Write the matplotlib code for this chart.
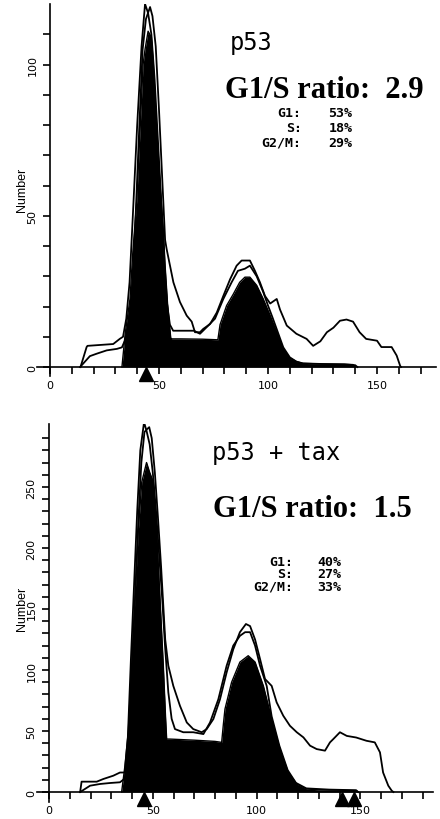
import matplotlib
matplotlib.use("Agg")
import matplotlib.pyplot as plt
import matplotlib.transforms as mtransforms
from matplotlib.ticker import FixedLocator

# ---- top panel: p53 ----
top_fill_x = [33, 34.5, 36.7, 38, 39.8, 41.3, 42.7, 43.6, 45, 46.5, 47.4, 49, 50.5, 52, 52.8, 54, 55.4, 56,
              60, 70, 77, 78, 81, 84, 87, 89.4, 91.7, 94.8, 97.8, 101, 104, 107, 110, 113, 116, 125, 135, 139, 140]
top_fill_y = [0, 11, 22.5, 38, 55, 78, 100, 105, 111, 109, 100, 78, 60, 45, 33.5, 20, 9.5, 9.3,
              9.3, 9.2, 9, 14, 20.3, 24, 28, 29.7, 29.7, 27, 22.5, 17, 11.5, 6, 3, 1.8, 1.2, 1, 0.9, 0.8, 0]

top_a_x = [14, 16.8, 17.2, 29, 32, 33.5, 35, 36.5, 38, 40, 42, 43.6, 45, 46.5, 48, 49.5, 51, 52.5, 53.5, 55, 56.5,
           60, 66, 68.8, 71.9, 75.7, 79.5, 83.3, 86.2, 89.4, 91.7, 94.8, 97.8, 100, 102, 104, 107, 110, 113, 116,
           125, 135, 140, 141]
top_a_y = [0, 6.6, 7, 7.6, 9.3, 10, 16, 28, 50, 80, 106, 120, 117, 110, 95, 75, 55, 32, 22, 14, 12,
           12, 12, 11, 13.2, 16, 22.5, 28, 31.8, 32.5, 33.5, 30, 24.8, 20.3, 16.5, 12.5, 6.5, 3.2, 1.8, 1.2,
           1, 0.9, 0.6, 0]

top_b_x = [13.8, 18.3, 21.4, 26, 30.7, 33, 34.5, 36, 37.5, 39, 41, 42.5, 44, 45.9, 47, 48.5, 50, 51.5, 52.8, 53.5,
           56.6, 59.6, 62.7, 65, 66.5, 68.8, 70.3, 73.4, 76.5, 79.5, 82.6, 85.6, 87.9, 91.7, 94, 96.3, 98.6,
           101, 104, 105.5, 108.6, 113, 117.7, 120.7, 124, 127, 130, 133, 136, 139, 142, 145, 150, 152,
           156.7, 159, 160.6, 161]
top_b_y = [0, 3.6, 4.4, 5.5, 6, 6.5, 9, 15, 25, 45, 80, 105, 115, 119, 116, 106, 85, 62, 42, 39,
           28, 21.5, 17, 15, 11.5, 11.5, 12.6, 14.2, 18, 23.5, 29, 33.5, 35.2, 35.2, 31.8, 28, 23.5,
           21, 22.5, 19, 13.7, 11, 9.3, 7, 8.5, 11.5, 13, 15.3, 15.7, 15, 11.5, 9.3, 8.7, 6.6,
           6.6, 3.8, 0.4, 0]

top_markers = [44]
top_yticks = [0, 50, 100]
top_yminor = list(range(0, 120, 10))

# ---- bottom panel: p53 + tax ----
bot_fill_x = [35, 36.6, 38.2, 39.8, 41.4, 43, 44.7, 47, 48.5, 50.3, 51.9, 53.5, 55.1, 56.2, 56.7,
              58.3, 70, 80, 83.2, 84, 84.8, 88, 92, 96, 99.3, 103.3, 107.3, 111.3, 115.3, 119.4, 124.2,
              130, 140, 148, 149]
bot_fill_y = [0, 21.6, 49, 103, 158, 213, 254, 270, 262, 254, 213, 158, 103, 60, 43.4,
              43.4, 42.5, 41.5, 40.7, 55, 68, 90, 106.5, 111.7, 106.5, 87, 60, 35, 16, 6.5, 2.5,
              1.8, 1.5, 1.2, 0]

bot_a_x = [15, 15.7, 23, 26.2, 31, 34.2, 36.5, 38, 39.5, 41, 42.5, 44, 45.8, 47, 48.5, 50, 51.5, 53,
           54.5, 55.9, 57.5, 59.1, 60.7, 64.7, 69.5, 74.4, 77.6, 81.6, 85.6, 88.8, 92, 94.5, 96.9,
           99.3, 101.7, 104.9, 107.3, 111, 115, 119, 124, 135, 148, 149]
bot_a_y = [0, 8.5, 8.5, 10.7, 13.4, 16, 16, 45, 110, 170, 230, 280, 303, 296, 285, 262, 232, 196,
           160, 120, 81.7, 60, 51.6, 49, 49, 47.5, 57, 76, 103.5, 120, 128, 131, 131,
           120, 103.5, 87, 62, 38, 18, 7.5, 3, 2, 1.5, 0]

bot_b_x = [15, 19.8, 24.6, 29.4, 34.2, 36.5, 38.5, 40, 41.5, 43, 44.5, 46, 47, 48.3, 49.5, 51, 52.5,
           54, 56, 57.5, 59.9, 63.1, 66.4, 69.5, 73.6, 76, 79.2, 82.4, 85.6, 88.8, 92, 94.9, 96.9,
           99.3, 101.7, 104.1, 107.3, 109.7, 112.9, 116.1, 119.4, 122.6, 125.8, 129, 133, 135.4,
           137, 140.2, 143.5, 148, 153, 157, 159.5, 161, 163.5, 165.2, 166]
bot_b_y = [0, 5.2, 6.6, 7.4, 8, 11, 40, 100, 160, 220, 270, 295, 297, 299, 290, 262, 225,
           185, 125, 103.5, 87, 70.7, 57, 51.6, 49, 51.6, 59.8, 76, 98, 117, 131, 137.7, 136,
           125, 109, 92.6, 87, 73.5, 62.5, 54.3, 49, 44.8, 38, 35.2, 33.9, 40.7,
           43.4, 49, 46, 44.7, 42, 40.7, 32.5, 16, 5.2, 1, 0]

bot_markers = [46, 141, 147]
bot_yticks = [0, 50, 100, 150, 200, 250]
bot_yminor = list(range(0, 300, 10))

W, H = 440, 820
fig = plt.figure(figsize=(W / 100, H / 100), dpi=100)


def px_rect(left, right, bottom, top):
	return [left / W, 1 - bottom / H, (right - left) / W, (bottom - top) / H]


def ftext(x, y, s, **kw):
	fig.text(x / W, 1 - y / H, s, **kw)


def draw_panel(ax, fx, fy, ax_, ay, bx, by, markers, yticks, yminor, xlim, ylim, marker_dy):
	ax.fill_between(fx, fy, 0, color='black', lw=0)
	ax.plot(fx, fy, color='black', lw=1.0)
	ax.plot(ax_, ay, color='black', lw=1.3)
	ax.plot(bx, by, color='black', lw=1.3)
	tr = mtransforms.offset_copy(ax.transData, fig=fig, y=marker_dy, units='dots')
	for m in markers:
		ax.plot([m], [0], marker='^', color='black', markersize=9.5, transform=tr, clip_on=False, lw=0)
	ax.set_xlim(*xlim)
	ax.set_ylim(*ylim)
	for s in ['top', 'right']:
		ax.spines[s].set_visible(False)
	ax.spines['left'].set_position(('data', 0))
	ax.spines['bottom'].set_position(('data', 0))
	for s in ['left', 'bottom']:
		ax.spines[s].set_linewidth(1.2)
	ax.xaxis.set_major_locator(FixedLocator([0, 50, 100, 150]))
	ax.xaxis.set_minor_locator(FixedLocator(list(range(0, int(xlim[1]), 10))))
	ax.yaxis.set_major_locator(FixedLocator(yticks))
	ax.yaxis.set_minor_locator(FixedLocator(yminor))
	ax.tick_params(which='both', direction='out', length=5, width=1.2, color='black')
	ax.tick_params(axis='both', which='major', labelsize=8, pad=4)
	ax.tick_params(axis='y', labelrotation=90, pad=4)
	for lab in ax.get_yticklabels():
		lab.set_va('center')
	ax.set_facecolor('none')


ax1 = fig.add_axes(px_rect(36.9, 435.9, 377.1, 5))
draw_panel(ax1, top_fill_x, top_fill_y, top_a_x, top_a_y, top_b_x, top_b_y, top_markers,
		   top_yticks, top_yminor, (-6, 177), (-3, 120), -6.5)

ax2 = fig.add_axes(px_rect(36.55, 432.9, 802.8, 425))
draw_panel(ax2, bot_fill_x, bot_fill_y, bot_a_x, bot_a_y, bot_b_x, bot_b_y, bot_markers,
		   bot_yticks, bot_yminor, (-6, 185), (-8, 301.6), -6.5)

for y in [190, 609]:
	ftext(22, y, 'Number', rotation=90, ha='center', va='center', fontsize=9, family='Liberation Sans')

mono = 'DejaVu Sans Mono'
serif = 'Liberation Serif'

# top annotations
ftext(230, 50, 'p53', fontsize=17, family=mono, va='baseline')
ftext(225, 98, 'G1/S ratio:  2.9', fontsize=22, family=serif, weight='bold', va='baseline')
for y, lab, val in zip([116.7, 131.7, 146.7], ['G1:', 'S:', 'G2/M:'], ['53%', '18%', '29%']):
	ftext(301.7, y, lab, fontsize=9.5, family=mono, weight='bold', ha='right', va='baseline')
	ftext(328.3, y, val, fontsize=9.5, family=mono, weight='bold', ha='left', va='baseline')

# bottom annotations
ftext(212, 460, 'p53 + tax', fontsize=17, family=mono, va='baseline')
ftext(213, 517, 'G1/S ratio:  1.5', fontsize=22, family=serif, weight='bold', va='baseline')
for y, lab, val in zip([565.7, 578, 590.7], ['G1:', 'S:', 'G2/M:'], ['40%', '27%', '33%']):
	ftext(293.3, y, lab, fontsize=9.5, family=mono, weight='bold', ha='right', va='baseline')
	ftext(317.3, y, val, fontsize=9.5, family=mono, weight='bold', ha='left', va='baseline')

fig.savefig('out.png', dpi=100)
